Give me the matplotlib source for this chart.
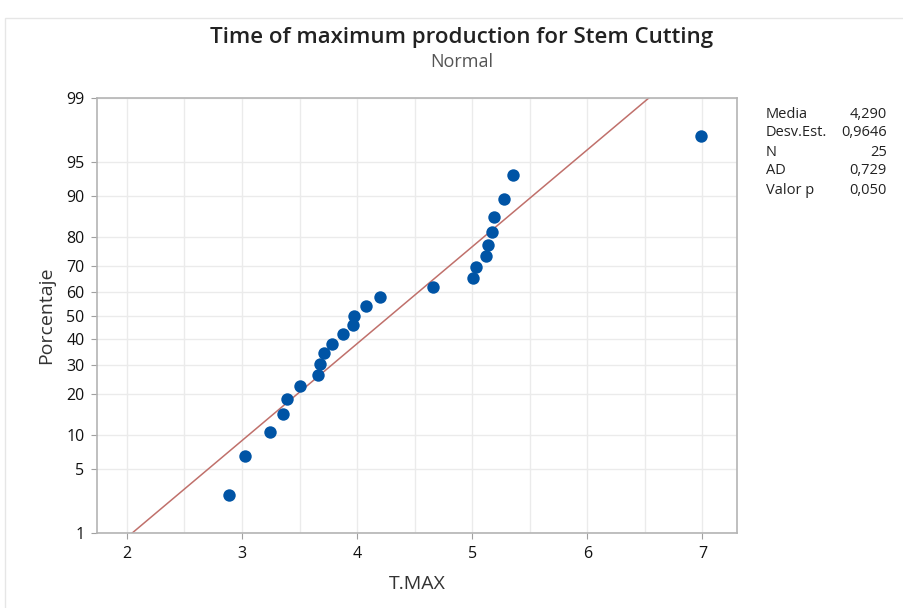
import numpy as np
import matplotlib
matplotlib.use("Agg")
import matplotlib.pyplot as plt
from matplotlib.patches import Rectangle
from statistics import NormalDist

plt.rcParams['font.family'] = ['Open Sans', 'DejaVu Sans']

t_max = [2.89, 3.03, 3.24, 3.36, 3.39, 3.50, 3.66, 3.68, 3.71, 3.78,
         3.88, 3.96, 3.97, 4.08, 4.20, 4.66, 5.01, 5.03, 5.12, 5.14,
         5.17, 5.19, 5.28, 5.35, 6.99]
media = 4.290
desv = 0.9646
y_ticks = [1, 5, 10, 20, 30, 40, 50, 60, 70, 80, 90, 95, 99]
x_ticks = [2, 3, 4, 5, 6, 7]
stat_labels = ["Media", "Desv.Est.", "N", "AD", "Valor p"]
stat_values = ["4,290", "0,9646", "25", "0,729", "0,050"]

nd = NormalDist()
n = len(t_max)
# median ranks (Benard) -> normal score
pct = [(i - 0.3) / (n + 0.4) for i in range(1, n + 1)]
z_pts = [nd.inv_cdf(p) for p in pct]

fig = plt.figure(figsize=(9.04, 6.08), dpi=100)
fig.patches.append(Rectangle((5/904, -0.01), 1.0, 1 - 18/608 + 0.01, transform=fig.transFigure,
                             fill=False, edgecolor='#e6e6e6', linewidth=1))
ax = fig.add_axes([97/904, 1 - 533/608, 640/904, 435/608])

zlo, zhi = nd.inv_cdf(0.01), nd.inv_cdf(0.99)
# vertical grid every 0.5
for xv in np.arange(2, 7.01, 0.5):
    ax.axvline(xv, color='#ebebeb', lw=1, zorder=0)
for yv in y_ticks:
    ax.axhline(nd.inv_cdf(yv / 100), color='#ebebeb', lw=1, zorder=0)

# fitted line
zl = np.array([zlo, zhi])
ax.plot(media + desv * zl, zl, color='#c0706b', lw=1.1, zorder=2)
ax.scatter(t_max, z_pts, s=80, color='#0054a5', zorder=3, linewidths=0)

ax.set_xlim(1.74, 7.30)
ax.set_ylim(zlo, zhi)
ax.set_xticks(x_ticks)
ax.set_xticklabels([str(v) for v in x_ticks])
ax.set_yticks([nd.inv_cdf(v / 100) for v in y_ticks])
ax.set_yticklabels([str(v) for v in y_ticks])
ax.tick_params(axis='both', direction='out', length=4, color='#a0a0a0', labelsize=11.5,
               labelcolor='#111111', pad=5)
for sp in ax.spines.values():
    sp.set_color('#b4b4b4')
    sp.set_linewidth(1.2)

ax.set_xlabel("T.MAX", fontsize=14, color='#333333', labelpad=10)
ax.set_ylabel("Porcentaje", fontsize=14, color='#333333', labelpad=8)

fig.text(462/904, 1 - 37/608, "Time of maximum production for Stem Cutting", ha='center', va='center',
         fontsize=16, color='#222222', fontweight='semibold')
fig.text(462/904, 1 - 62/608, "Normal", ha='center', va='center', fontsize=13, color='#555555')

for k, (lab, val) in enumerate(zip(stat_labels, stat_values)):
    yy = 1 - (114 + 19 * k) / 608
    fig.text(766/904, yy, lab, ha='left', va='center', fontsize=10.5, color='#222222')
    fig.text(887/904, yy, val, ha='right', va='center', fontsize=10.5, color='#222222')

fig.savefig("out.png", dpi=100)
